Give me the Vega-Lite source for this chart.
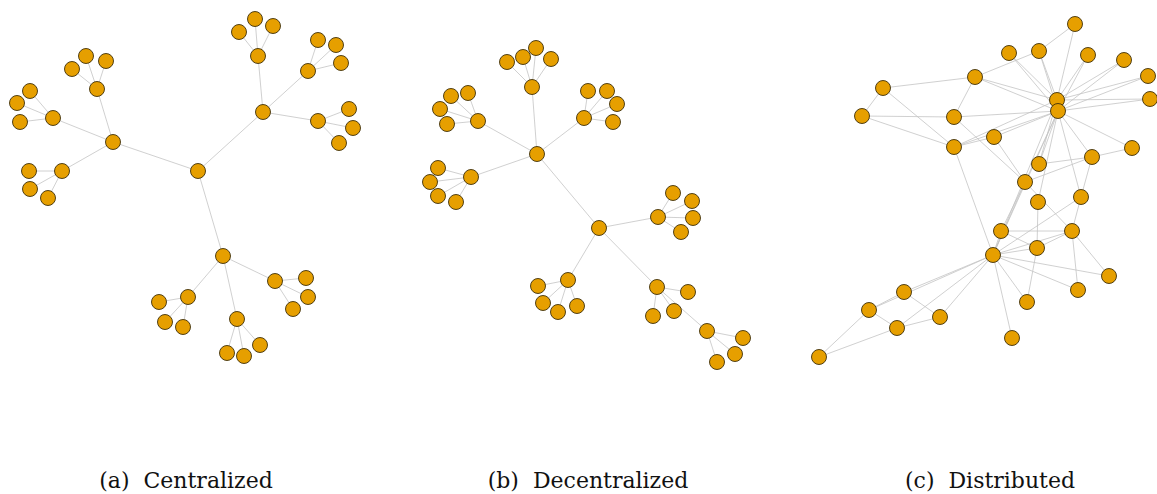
{
  "$schema": "https://vega.github.io/schema/vega-lite/v6.json",
  "width": 1157,
  "height": 494,
  "padding": 0,
  "autosize": {"type": "none"},
  "background": "white",
  "config": {"view": {"stroke": null}},
  "datasets": {
    "nodes": [
      {"id": "a0", "x": 198, "y": 171},
      {"id": "a1", "x": 113, "y": 142}, {"id": "a2", "x": 263, "y": 112}, {"id": "a3", "x": 223, "y": 256},
      {"id": "a11", "x": 97, "y": 89}, {"id": "a12", "x": 53, "y": 118}, {"id": "a13", "x": 62, "y": 171},
      {"id": "a21", "x": 258, "y": 56}, {"id": "a22", "x": 308, "y": 71}, {"id": "a23", "x": 318, "y": 121},
      {"id": "a31", "x": 188, "y": 297}, {"id": "a32", "x": 237, "y": 319}, {"id": "a33", "x": 275, "y": 281},
      {"id": "a111", "x": 72, "y": 69}, {"id": "a112", "x": 86, "y": 56}, {"id": "a113", "x": 106, "y": 61},
      {"id": "a121", "x": 30, "y": 91}, {"id": "a122", "x": 17, "y": 103}, {"id": "a123", "x": 20, "y": 122},
      {"id": "a131", "x": 29, "y": 171}, {"id": "a132", "x": 30, "y": 189}, {"id": "a133", "x": 48, "y": 198},
      {"id": "a211", "x": 239, "y": 32}, {"id": "a212", "x": 255, "y": 19}, {"id": "a213", "x": 273, "y": 26},
      {"id": "a221", "x": 318, "y": 40}, {"id": "a222", "x": 336, "y": 45}, {"id": "a223", "x": 341, "y": 63},
      {"id": "a231", "x": 349, "y": 109}, {"id": "a232", "x": 353, "y": 128}, {"id": "a233", "x": 339, "y": 143},
      {"id": "a311", "x": 159, "y": 302}, {"id": "a312", "x": 165, "y": 322}, {"id": "a313", "x": 183, "y": 327},
      {"id": "a321", "x": 227, "y": 353}, {"id": "a322", "x": 244, "y": 356}, {"id": "a323", "x": 260, "y": 345},
      {"id": "a331", "x": 306, "y": 278}, {"id": "a332", "x": 308, "y": 297}, {"id": "a333", "x": 293, "y": 309},

      {"id": "b1", "x": 537, "y": 154}, {"id": "b2", "x": 599, "y": 228},
      {"id": "b11", "x": 532, "y": 87}, {"id": "b12", "x": 478, "y": 121}, {"id": "b13", "x": 471, "y": 177}, {"id": "b14", "x": 584, "y": 118},
      {"id": "b21", "x": 658, "y": 217}, {"id": "b22", "x": 568, "y": 280}, {"id": "b23", "x": 657, "y": 287}, {"id": "b231", "x": 707, "y": 331},
      {"id": "b111", "x": 507, "y": 62}, {"id": "b112", "x": 523, "y": 57}, {"id": "b113", "x": 536, "y": 48}, {"id": "b114", "x": 551, "y": 59},
      {"id": "b121", "x": 451, "y": 96}, {"id": "b122", "x": 468, "y": 93}, {"id": "b123", "x": 440, "y": 109}, {"id": "b124", "x": 447, "y": 124},
      {"id": "b131", "x": 438, "y": 168}, {"id": "b132", "x": 430, "y": 182}, {"id": "b133", "x": 438, "y": 196}, {"id": "b134", "x": 456, "y": 202},
      {"id": "b141", "x": 588, "y": 91}, {"id": "b142", "x": 607, "y": 91}, {"id": "b143", "x": 617, "y": 104}, {"id": "b144", "x": 613, "y": 122},
      {"id": "b211", "x": 673, "y": 193}, {"id": "b212", "x": 692, "y": 201}, {"id": "b213", "x": 693, "y": 218}, {"id": "b214", "x": 681, "y": 232},
      {"id": "b221", "x": 538, "y": 286}, {"id": "b222", "x": 543, "y": 303}, {"id": "b223", "x": 558, "y": 312}, {"id": "b224", "x": 577, "y": 306},
      {"id": "b232", "x": 688, "y": 292}, {"id": "b233", "x": 674, "y": 311}, {"id": "b234", "x": 653, "y": 316},
      {"id": "b2311", "x": 743, "y": 338}, {"id": "b2312", "x": 735, "y": 354}, {"id": "b2313", "x": 717, "y": 362},

      {"id": "cA", "x": 1075, "y": 24}, {"id": "cB", "x": 1039, "y": 51}, {"id": "cC", "x": 1009, "y": 53},
      {"id": "cD", "x": 1088, "y": 55}, {"id": "cE", "x": 1124, "y": 60}, {"id": "cF", "x": 1148, "y": 76},
      {"id": "cG", "x": 1150, "y": 99}, {"id": "cH", "x": 975, "y": 77}, {"id": "cI", "x": 883, "y": 88},
      {"id": "cJ", "x": 862, "y": 116}, {"id": "cK", "x": 954, "y": 117}, {"id": "cL", "x": 1057, "y": 100},
      {"id": "cM", "x": 1058, "y": 111}, {"id": "cN", "x": 994, "y": 137}, {"id": "cO", "x": 954, "y": 147},
      {"id": "cP", "x": 1132, "y": 148}, {"id": "cQ", "x": 1092, "y": 157}, {"id": "cR", "x": 1039, "y": 164},
      {"id": "cS", "x": 1025, "y": 182}, {"id": "cT", "x": 1081, "y": 197}, {"id": "cU", "x": 1038, "y": 202},
      {"id": "cW", "x": 1001, "y": 231}, {"id": "cX", "x": 1072, "y": 231}, {"id": "cY", "x": 1037, "y": 248},
      {"id": "cZ", "x": 993, "y": 255}, {"id": "cAA", "x": 1109, "y": 276}, {"id": "cAB", "x": 1078, "y": 290},
      {"id": "cAC", "x": 1027, "y": 302}, {"id": "cAD", "x": 904, "y": 292}, {"id": "cAE", "x": 869, "y": 310},
      {"id": "cAF", "x": 940, "y": 317}, {"id": "cAG", "x": 897, "y": 328}, {"id": "cAH", "x": 1012, "y": 338},
      {"id": "cAI", "x": 819, "y": 357}
    ],
    "edges": [
      {"s": "a0", "t": "a1"}, {"s": "a0", "t": "a2"}, {"s": "a0", "t": "a3"},
      {"s": "a1", "t": "a11"}, {"s": "a1", "t": "a12"}, {"s": "a1", "t": "a13"},
      {"s": "a2", "t": "a21"}, {"s": "a2", "t": "a22"}, {"s": "a2", "t": "a23"},
      {"s": "a3", "t": "a31"}, {"s": "a3", "t": "a32"}, {"s": "a3", "t": "a33"},
      {"s": "a11", "t": "a111"}, {"s": "a11", "t": "a112"}, {"s": "a11", "t": "a113"},
      {"s": "a12", "t": "a121"}, {"s": "a12", "t": "a122"}, {"s": "a12", "t": "a123"},
      {"s": "a13", "t": "a131"}, {"s": "a13", "t": "a132"}, {"s": "a13", "t": "a133"},
      {"s": "a21", "t": "a211"}, {"s": "a21", "t": "a212"}, {"s": "a21", "t": "a213"},
      {"s": "a22", "t": "a221"}, {"s": "a22", "t": "a222"}, {"s": "a22", "t": "a223"},
      {"s": "a23", "t": "a231"}, {"s": "a23", "t": "a232"}, {"s": "a23", "t": "a233"},
      {"s": "a31", "t": "a311"}, {"s": "a31", "t": "a312"}, {"s": "a31", "t": "a313"},
      {"s": "a32", "t": "a321"}, {"s": "a32", "t": "a322"}, {"s": "a32", "t": "a323"},
      {"s": "a33", "t": "a331"}, {"s": "a33", "t": "a332"}, {"s": "a33", "t": "a333"},

      {"s": "b1", "t": "b2"},
      {"s": "b1", "t": "b11"}, {"s": "b1", "t": "b12"}, {"s": "b1", "t": "b13"}, {"s": "b1", "t": "b14"},
      {"s": "b2", "t": "b21"}, {"s": "b2", "t": "b22"}, {"s": "b2", "t": "b23"}, {"s": "b23", "t": "b231"},
      {"s": "b11", "t": "b111"}, {"s": "b11", "t": "b112"}, {"s": "b11", "t": "b113"}, {"s": "b11", "t": "b114"},
      {"s": "b12", "t": "b121"}, {"s": "b12", "t": "b122"}, {"s": "b12", "t": "b123"}, {"s": "b12", "t": "b124"},
      {"s": "b13", "t": "b131"}, {"s": "b13", "t": "b132"}, {"s": "b13", "t": "b133"}, {"s": "b13", "t": "b134"},
      {"s": "b14", "t": "b141"}, {"s": "b14", "t": "b142"}, {"s": "b14", "t": "b143"}, {"s": "b14", "t": "b144"},
      {"s": "b21", "t": "b211"}, {"s": "b21", "t": "b212"}, {"s": "b21", "t": "b213"}, {"s": "b21", "t": "b214"},
      {"s": "b22", "t": "b221"}, {"s": "b22", "t": "b222"}, {"s": "b22", "t": "b223"}, {"s": "b22", "t": "b224"},
      {"s": "b23", "t": "b232"}, {"s": "b23", "t": "b233"}, {"s": "b23", "t": "b234"},
      {"s": "b231", "t": "b2311"}, {"s": "b231", "t": "b2312"}, {"s": "b231", "t": "b2313"},

      {"s": "cA", "t": "cB"}, {"s": "cA", "t": "cL"}, {"s": "cB", "t": "cH"}, {"s": "cB", "t": "cL"}, {"s": "cB", "t": "cM"},
      {"s": "cC", "t": "cL"}, {"s": "cC", "t": "cM"}, {"s": "cD", "t": "cL"}, {"s": "cD", "t": "cM"},
      {"s": "cE", "t": "cL"}, {"s": "cE", "t": "cM"}, {"s": "cF", "t": "cL"}, {"s": "cF", "t": "cM"},
      {"s": "cG", "t": "cL"}, {"s": "cG", "t": "cM"}, {"s": "cH", "t": "cL"}, {"s": "cH", "t": "cM"},
      {"s": "cH", "t": "cI"}, {"s": "cH", "t": "cK"}, {"s": "cI", "t": "cJ"}, {"s": "cI", "t": "cO"},
      {"s": "cJ", "t": "cK"}, {"s": "cJ", "t": "cO"}, {"s": "cK", "t": "cM"}, {"s": "cK", "t": "cS"},
      {"s": "cO", "t": "cN"}, {"s": "cO", "t": "cL"}, {"s": "cO", "t": "cM"}, {"s": "cO", "t": "cZ"},
      {"s": "cN", "t": "cM"}, {"s": "cN", "t": "cS"},
      {"s": "cM", "t": "cP"}, {"s": "cM", "t": "cQ"}, {"s": "cM", "t": "cT"}, {"s": "cM", "t": "cR"},
      {"s": "cM", "t": "cS"}, {"s": "cM", "t": "cU"}, {"s": "cM", "t": "cZ"}, {"s": "cL", "t": "cZ"}, {"s": "cL", "t": "cR"},
      {"s": "cP", "t": "cQ"}, {"s": "cQ", "t": "cT"}, {"s": "cQ", "t": "cR"}, {"s": "cQ", "t": "cS"},
      {"s": "cS", "t": "cZ"}, {"s": "cS", "t": "cW"}, {"s": "cS", "t": "cX"}, {"s": "cU", "t": "cY"},
      {"s": "cT", "t": "cX"}, {"s": "cW", "t": "cX"}, {"s": "cW", "t": "cY"}, {"s": "cW", "t": "cZ"}, {"s": "cY", "t": "cX"},
      {"s": "cZ", "t": "cX"}, {"s": "cZ", "t": "cY"}, {"s": "cZ", "t": "cT"}, {"s": "cZ", "t": "cAA"},
      {"s": "cZ", "t": "cAB"}, {"s": "cZ", "t": "cAC"}, {"s": "cZ", "t": "cAH"}, {"s": "cZ", "t": "cAD"},
      {"s": "cZ", "t": "cAE"}, {"s": "cZ", "t": "cAF"}, {"s": "cZ", "t": "cAG"},
      {"s": "cX", "t": "cAA"}, {"s": "cX", "t": "cAB"}, {"s": "cY", "t": "cAC"},
      {"s": "cAD", "t": "cAE"}, {"s": "cAD", "t": "cAF"}, {"s": "cAE", "t": "cAG"}, {"s": "cAG", "t": "cAF"},
      {"s": "cAE", "t": "cAI"}, {"s": "cAG", "t": "cAI"}
    ],
    "captions": [
      {"label": "(a)\u00a0 Centralized", "x": 186, "y": 488},
      {"label": "(b)\u00a0 Decentralized", "x": 588, "y": 488},
      {"label": "(c)\u00a0 Distributed", "x": 990, "y": 488}
    ]
  },
  "layer": [
    {
      "data": {"name": "edges"},
      "transform": [
        {"lookup": "s", "from": {"data": {"name": "nodes"}, "key": "id", "fields": ["x", "y"]}, "as": ["sx", "sy"]},
        {"lookup": "t", "from": {"data": {"name": "nodes"}, "key": "id", "fields": ["x", "y"]}, "as": ["tx", "ty"]}
      ],
      "mark": {"type": "rule", "color": "#c4c4c4", "strokeWidth": 0.8},
      "encoding": {
        "x": {"field": "sx", "type": "quantitative", "scale": {"domain": [0, 1157], "nice": false, "zero": false}, "axis": null},
        "y": {"field": "sy", "type": "quantitative", "scale": {"domain": [0, 494], "nice": false, "zero": false, "reverse": true}, "axis": null},
        "x2": {"field": "tx"},
        "y2": {"field": "ty"}
      }
    },
    {
      "data": {"name": "nodes"},
      "mark": {"type": "circle", "size": 225, "fill": "#E69F00", "stroke": "#3f3008", "strokeWidth": 0.9, "opacity": 1},
      "encoding": {
        "x": {"field": "x", "type": "quantitative", "axis": null},
        "y": {"field": "y", "type": "quantitative", "axis": null}
      }
    },
    {
      "data": {"name": "captions"},
      "mark": {"type": "text", "font": "DejaVu Serif", "fontSize": 22, "align": "center", "baseline": "alphabetic", "color": "#111111"},
      "encoding": {
        "x": {"field": "x", "type": "quantitative", "axis": null},
        "y": {"field": "y", "type": "quantitative", "axis": null},
        "text": {"field": "label"}
      }
    }
  ]
}
